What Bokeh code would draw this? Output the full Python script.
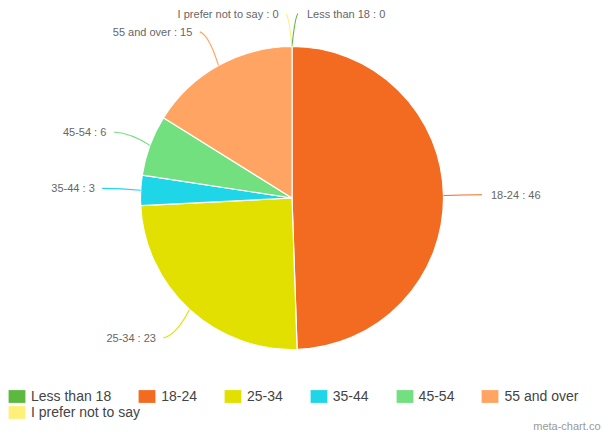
import math
from bokeh.plotting import figure
from bokeh.models import Range1d, Legend, LegendItem, ColumnDataSource
from bokeh.embed import file_html
from bokeh.resources import INLINE
from bokeh.core.properties import value

# ---- data ----
categories = ["Less than 18", "18-24", "25-34", "35-44", "45-54", "55 and over", "I prefer not to say"]
counts = [0, 46, 23, 3, 6, 15, 0]
colors = ["#5cb83f", "#f26b21", "#e2e000", "#1fd6e8", "#72e07e", "#ffa463", "#fff07a"]
credit = "meta-chart.co"

# ---- layout ----
W, H = 604, 432
CX, CY = 291.5, 197.5          # pie centre in page pixels (y downwards)
R = 151.5                      # pie radius
RL = 190.0                     # radius of label anchor
FONT = "Liberation Sans"


def ypx(y):
    return H - y


p = figure(width=W, height=H, x_range=Range1d(0, W), y_range=Range1d(0, H),
           output_backend="svg", toolbar_location=None, min_border=0,
           x_axis_location=None, y_axis_location=None)
p.grid.visible = False
p.outline_line_color = None
p.background_fill_color = "white"
p.border_fill_color = "white"

total = float(sum(counts))
cum = 0.0
wx, wy, ws, we, wc = [], [], [], [], []
lab_x, lab_y, lab_t, lab_align = [], [], [], []
q = dict(x0=[], y0=[], x1=[], y1=[], cx=[], cy=[], c=[])

for cat, v, col in zip(categories, counts, colors):
    f0 = cum / total
    cum += v
    f1 = cum / total
    if v > 0:
        wx.append(CX); wy.append(ypx(CY))
        ws.append(math.pi / 2 - 2 * math.pi * f0)
        we.append(math.pi / 2 - 2 * math.pi * f1)
        wc.append(col)
    th = math.pi * (f0 + f1)        # mid angle, clockwise from top
    right = th < math.pi
    ox, oy = CX + R * math.sin(th), CY - R * math.cos(th)
    ax, ay = CX + RL * math.sin(th), CY - RL * math.cos(th)
    # keep labels off each other at the top and inside the page
    if abs(ax - CX) < 6:
        ax = CX + 6 if right else CX - 6
    ay = max(ay, 13)
    cxp = ax + (ox - ax) * 0.5
    cyp = ay + (oy - ay) * 0.1
    q["x0"].append(ox); q["y0"].append(ypx(oy))
    q["x1"].append(ax); q["y1"].append(ypx(ay))
    q["cx"].append(cxp); q["cy"].append(ypx(cyp))
    q["c"].append(col)
    lab_x.append(ax + 9 if right else ax - 7.5)
    lab_y.append(ypx(ay))
    lab_t.append(f"{cat} : {v}")
    lab_align.append("left" if right else "right")

p.wedge(x=wx, y=wy, radius=R, start_angle=ws, end_angle=we, direction="clock",
        fill_color=wc, line_color="white", line_width=1.2)

p.quadratic(x0="x0", y0="y0", x1="x1", y1="y1", cx="cx", cy="cy",
            line_color="c", line_width=1.1, source=ColumnDataSource(q))

p.text(x="x", y="y", text="t", text_align="a", text_baseline="middle",
       text_font=value(FONT), text_font_size="11px", text_color="#666666",
       source=ColumnDataSource(dict(x=lab_x, y=lab_y, t=lab_t, a=lab_align)))

# ---- legend (swatch renderers sit outside the visible range) ----
items = []
for cat, col in zip(categories, colors):
    r = p.rect(x=[-1000], y=[-1000], width=1, height=1, fill_color=col, line_color=None)
    items.append(LegendItem(label=cat, renderers=[r]))


def make_legend(its, loc):
    lg = Legend(items=its, orientation="horizontal", location=loc,
                glyph_width=21, glyph_height=16, label_height=16,
                label_standoff=4, spacing=25, padding=0, margin=0,
                border_line_color=None, background_fill_alpha=0,
                label_text_font=FONT, label_text_font_size="14px",
                label_text_color="#444444")
    return lg


p.add_layout(make_legend(items[:6], (6, 28.4)))
p.add_layout(make_legend(items[6:], (6, 11.6)))

p.text(x=[600], y=[ypx(425)], text=[credit], text_align="right", text_baseline="middle",
       text_font=value(FONT), text_font_size="11px", text_color="#999999")

open("out.html", "w").write(file_html(p, INLINE))
